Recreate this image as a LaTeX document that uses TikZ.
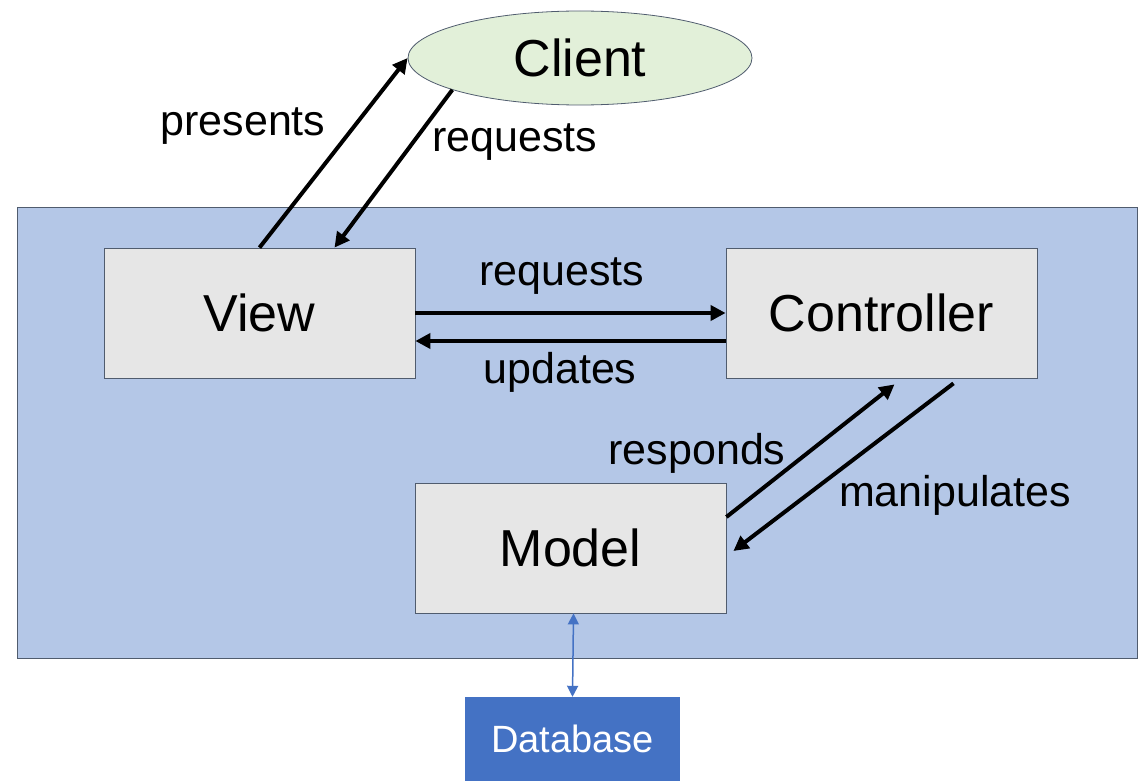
\documentclass[tikz,border=0pt]{standalone}
\usepackage{fontspec}
\setmainfont{Liberation Sans}
\usepackage{tikz}
\usetikzlibrary{shapes.geometric, arrows.meta, positioning}
\definecolor{mvcpanel}{RGB}{180, 199, 231}
\definecolor{mvcbox}{RGB}{230, 230, 230}
\definecolor{mvcclient}{RGB}{226, 240, 217}
\definecolor{mvcdb}{RGB}{68, 114, 196}
\definecolor{mvcline}{RGB}{80, 92, 110}

\tikzset{
  partbox/.style={draw=mvcline, fill=mvcbox, line width=0.8pt,
    minimum width=311pt, minimum height=130pt, font=\fontsize{52}{60}\selectfont},
  flow/.style={line width=4pt, -{Triangle[length=15pt,width=15pt]}},
  flowlabel/.style={font=\fontsize{43}{50}\selectfont}
}

\begin{document}
\begin{tikzpicture}[x=1pt, y=-1pt]
\useasboundingbox (0,0) rectangle (1140,781);

% application panel
\node[draw=mvcline, fill=mvcpanel, line width=0.8pt, minimum width=1120pt,
  minimum height=451pt] (panel) at (577,432.5) {};

% client
\node[ellipse, draw=mvcline, fill=mvcclient, line width=0.8pt, minimum width=344pt,
  minimum height=94pt, font=\fontsize{52}{60}\selectfont] (client) at (580,58) {Client};

% MVC parts
\node[partbox] (view) at (259.5,313) {\raisebox{-2pt}{View}};
\node[partbox] (controller) at (881.5,313) {\raisebox{-2pt}{Controller}};
\node[partbox] (model) at (570.5,548) {Model};

% database
\node[fill=mvcdb, text=white, minimum width=215pt, minimum height=84pt,
  font=\fontsize{38}{44}\selectfont] (db) at (572.5,739) {\raisebox{-3pt}{Database}};

% client <-> view
\draw[flow] (view.north) -- (client.west);
\draw[flow] (client.194) -- ([xshift=75pt]view.north);
\node[flowlabel] (presentslbl) at (243,126) {presents};
\node[flowlabel] (clientreqlbl) at (515,142) {requests};

% view <-> controller
\draw[flow] (view.east) -- (controller.west);
\draw[flow] ([yshift=-28pt]controller.west) -- ([yshift=-28pt]view.east);
\node[flowlabel] (viewreqlbl) at (562,276) {requests};
\node[flowlabel] (updateslbl) at (560,372) {updates};

% controller <-> model
\draw[flow] ([yshift=31pt]model.east) -- ([xshift=13pt,yshift=-6pt]controller.south);
\draw[flow] ([xshift=72pt,yshift=-5pt]controller.south) -- ([xshift=7pt,yshift=-3pt]model.east);
\node[flowlabel] (respondslbl) at (697,453) {responds};
\node[flowlabel] (manipulateslbl) at (955,495) {manipulates};

% model <-> database
\draw[mvcdb, line width=1.5pt, {Triangle[length=11pt,width=11pt]}-{Triangle[length=11pt,width=11pt]}]
  ([xshift=3pt]model.south) -- (db.north);
\end{tikzpicture}
\end{document}
